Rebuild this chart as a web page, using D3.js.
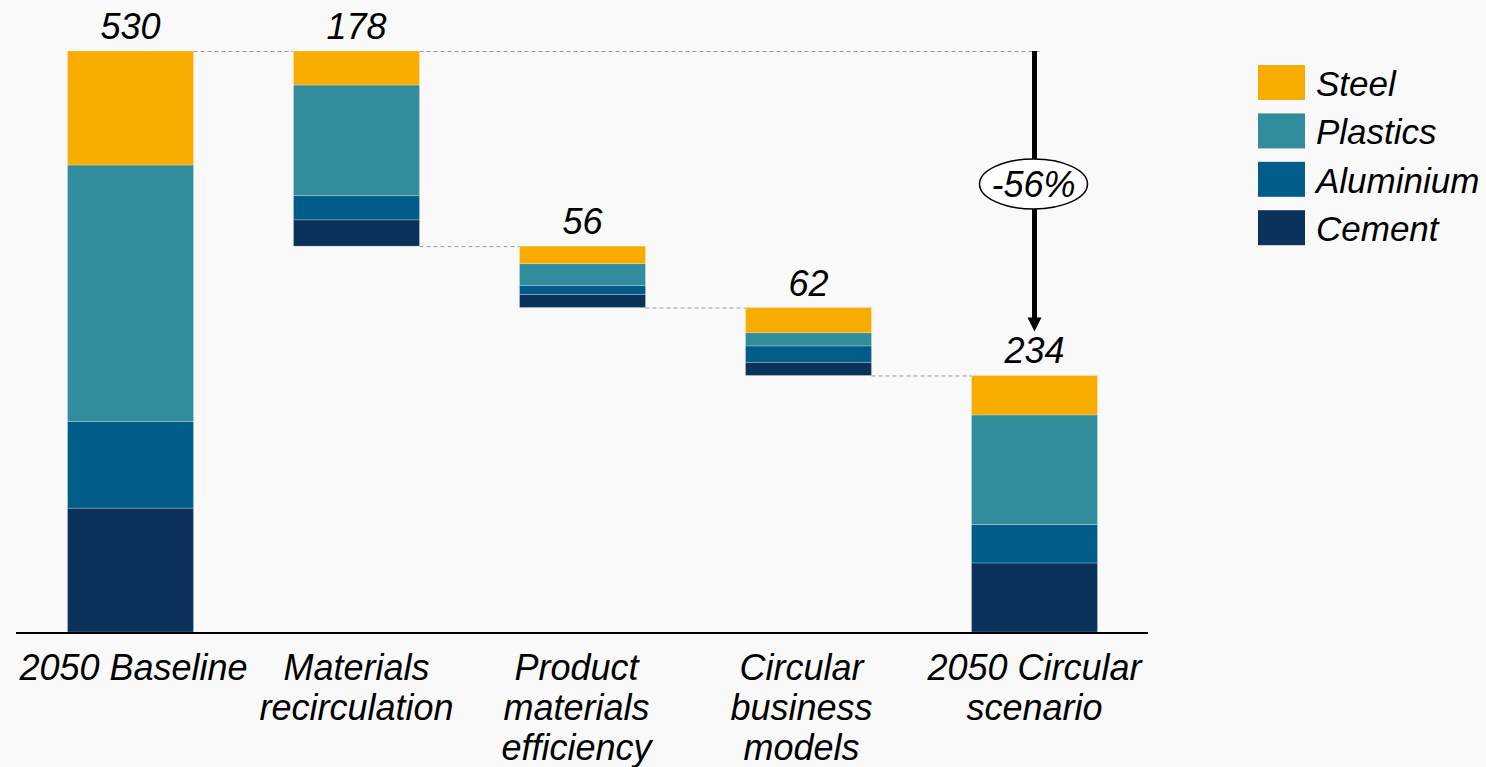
<!DOCTYPE html>
<html>
<head>
<meta charset="utf-8">
<script src="https://cdn.jsdelivr.net/npm/d3@7"></script>
<style>
  html, body { margin: 0; padding: 0; background: #f9f9f9; }
  svg { display: block; font-family: "Liberation Sans", Arial, sans-serif; font-style: italic; }
</style>
</head>
<body>
<div class="div_chart"></div>
<script>
// waterfall steps
const categories = ["2050 Baseline", "Materials recirculation", "Product materials efficiency", "Circular business models", "2050 Circular scenario"];
const categoryLines = [["2050 Baseline"], ["Materials", "recirculation"], ["Product", "materials", "efficiency"], ["Circular", "business", "models"], ["2050 Circular", "scenario"]];
const stepType = ["total", "decrease", "decrease", "decrease", "total"];

// materials, stacked bottom -> top
const materials = ["Cement", "Aluminium", "Plastics", "Steel"];
const cement = [113, 24, 12, 12, 63];
const aluminium = [79, 22, 8, 15, 35];
const plastics = [234, 101, 20, 12, 100];
const steel = [104, 31, 16, 23, 36];
const totals = [530, 178, 56, 62, 234];
const changeLabel = "-56%";

const legendOrder = ["Steel", "Plastics", "Aluminium", "Cement"];
const colors = {Steel: "#f9ac00", Plastics: "#318c9c", Aluminium: "#025c8a", Cement: "#0a325a"};

const width = 1486, height = 767;
const margin = {top: 51, bottom: 135, left: 17, right: 338};

const svg = d3.select(".div_chart")
  .append("svg")
    .attr("width", width)
    .attr("height", height);

const x = d3.scaleBand()
  .domain(categories)
  .range([margin.left, width - margin.right])
  .paddingInner(0.4425)
  .paddingOuter(0.2235);

const y = d3.scaleLinear()
  .domain([0, d3.max(totals)])
  .range([height - margin.bottom, margin.top]);

// build stacked rows with waterfall offsets
const series = {Cement: cement, Aluminium: aluminium, Plastics: plastics, Steel: steel};
let running = 0;
const rows = categories.map((c, i) => {
  let base;
  if (stepType[i] === "total") { base = 0; running = totals[i]; }
  else { running -= totals[i]; base = running; }
  const segs = [];
  let acc = base;
  materials.forEach(m => {
    segs.push({cat: c, key: m, y0: acc, y1: acc + series[m][i]});
    acc += series[m][i];
  });
  return {cat: c, i, base, top: base + totals[i], total: totals[i], segs};
});

// dashed connectors: each bar's lower edge to the next bar's top
const conn = [];
rows.forEach((r, i) => {
  if (i < rows.length - 1) {
    const next = rows[i + 1];
    conn.push({x1: x(r.cat) + x.bandwidth(), x2: x(next.cat), v: next.top});
  }
});
conn.push({x1: x(categories[1]) + x.bandwidth(), x2: x(categories[4]) + x.bandwidth() / 2 + 7, v: totals[0]});

svg.append("g")
  .selectAll("line")
  .data(conn)
  .join("line")
    .attr("x1", d => d.x1)
    .attr("x2", d => d.x2)
    .attr("y1", d => y(d.v) + 0.5)
    .attr("y2", d => y(d.v) + 0.5)
    .attr("stroke", "#9a9a9a")
    .attr("stroke-width", 1)
    .attr("stroke-dasharray", "4,3");

// bars
svg.append("g")
  .selectAll("g")
  .data(rows)
  .join("g")
  .selectAll("rect")
  .data(d => d.segs)
  .join("rect")
    .attr("x", d => x(d.cat))
    .attr("y", d => y(d.y1))
    .attr("width", x.bandwidth())
    .attr("height", d => y(d.y0) - y(d.y1))
    .attr("fill", d => colors[d.key])
    .attr("stroke", "rgba(255,255,255,0.3)")
    .attr("stroke-width", 0.8);

// value labels
svg.append("g")
  .selectAll("text")
  .data(rows)
  .join("text")
    .attr("x", d => x(d.cat) + x.bandwidth() / 2)
    .attr("y", d => y(d.top) - 12)
    .attr("text-anchor", "middle")
    .attr("font-size", 36)
    .attr("fill", "#000")
    .text(d => d.total);

// baseline axis
svg.append("line")
  .attr("x1", 16)
  .attr("x2", 1148)
  .attr("y1", y(0) + 1)
  .attr("y2", y(0) + 1)
  .attr("stroke", "#000")
  .attr("stroke-width", 2);

// category labels (small nudges like the original text boxes)
const nudge = {"2050 Baseline": 3, "Product materials efficiency": -6, "Circular business models": -7};
const catG = svg.append("g")
  .selectAll("text")
  .data(categories)
  .join("text")
    .attr("x", d => x(d) + x.bandwidth() / 2 + (nudge[d] || 0))
    .attr("y", 680)
    .attr("text-anchor", "middle")
    .attr("font-size", 36)
    .attr("fill", "#000");
catG.selectAll("tspan")
  .data((d, i) => categoryLines[i])
  .join("tspan")
    .attr("x", function() { return d3.select(this.parentNode).attr("x"); })
    .attr("dy", (d, i) => i === 0 ? 0 : 40)
    .text(d => d);

// -56% arrow
const ax = x(categories[4]) + x.bandwidth() / 2;
const tipY = y(totals[4]) - 44;
svg.append("line")
  .attr("x1", ax).attr("x2", ax)
  .attr("y1", y(totals[0]))
  .attr("y2", tipY - 12)
  .attr("stroke", "#000")
  .attr("stroke-width", 5);
svg.append("path")
  .attr("d", `M${ax - 7},${tipY - 14}L${ax + 7},${tipY - 14}L${ax},${tipY}Z`)
  .attr("fill", "#000");
const ey = y(totals[0]) + 133;
svg.append("ellipse")
  .attr("cx", ax - 1)
  .attr("cy", ey)
  .attr("rx", 54)
  .attr("ry", 25)
  .attr("fill", "#fff")
  .attr("stroke", "#000")
  .attr("stroke-width", 1.5);
svg.append("text")
  .attr("x", ax - 1)
  .attr("y", ey + 13)
  .attr("text-anchor", "middle")
  .attr("font-size", 36)
  .attr("fill", "#000")
  .text(changeLabel);

// legend
const legend = svg.append("g")
  .attr("transform", "translate(1258,65)")
  .selectAll("g")
  .data(legendOrder)
  .join("g")
    .attr("transform", (d, i) => `translate(0,${i * 48.4})`);
legend.append("rect")
  .attr("width", 47)
  .attr("height", 35)
  .attr("fill", d => colors[d]);
legend.append("text")
  .attr("x", 58)
  .attr("y", 31)
  .attr("font-size", 35)
  .attr("fill", "#000")
  .text(d => d);
</script>
</body>
</html>
